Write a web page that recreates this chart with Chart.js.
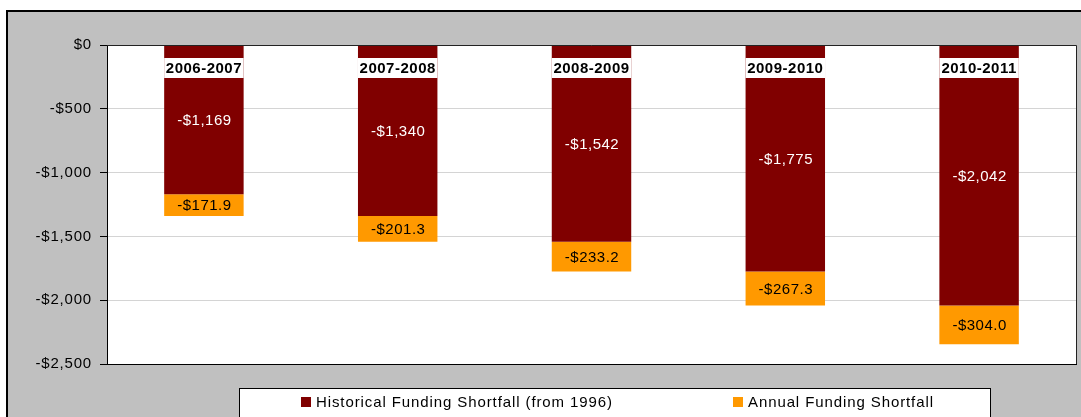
<!DOCTYPE html>
<html><head><meta charset="utf-8">
<script src="https://cdn.jsdelivr.net/npm/chart.js@4/dist/chart.umd.min.js"></script>
<style>html,body{margin:0;padding:0;background:#fff;overflow:hidden}#wrap{width:1081px;height:417px}</style>
</head><body><div id="wrap"><canvas id="c" width="1081" height="417"></canvas></div>
<script>
const categories = ['2006-2007', '2007-2008', '2008-2009', '2009-2010', '2010-2011'];
const historical = [-1169, -1340, -1542, -1775, -2042];
const annual = [-171.9, -201.3, -233.2, -267.3, -304.0];
const yTicks = [0, -500, -1000, -1500, -2000, -2500];
const seriesNames = ['Historical Funding Shortfall (from 1996)', 'Annual Funding Shortfall'];
const seriesColors = ['#800000', '#FF9900'];

const FONT = '"Liberation Sans", Arial, sans-serif';

function money(v) {
  const a = Math.abs(v).toLocaleString('en-US');
  return (v < 0 ? '-$' : '$') + a;
}

const framePlugin = {
  id: 'frame',
  beforeDraw(chart) {
    const ctx = chart.ctx, a = chart.chartArea;
    ctx.save();
    ctx.fillStyle = '#ffffff';
    ctx.fillRect(0, 0, chart.width, chart.height);
    ctx.fillStyle = '#C0C0C0';
    ctx.fillRect(7, 10, chart.width, chart.height);
    ctx.strokeStyle = '#000';
    ctx.lineWidth = 2;
    ctx.beginPath();
    ctx.moveTo(7, chart.height + 5); ctx.lineTo(7, 11); ctx.lineTo(chart.width + 5, 11);
    ctx.stroke();
    ctx.fillStyle = '#ffffff';
    ctx.fillRect(a.left, a.top, a.right - a.left, a.bottom - a.top);
    ctx.restore();
    ctx.letterSpacing = '0.8px';
  },
  afterDatasetsDraw(chart) {
    const ctx = chart.ctx, a = chart.chartArea;
    ctx.save();
    ctx.strokeStyle = '#222';
    ctx.lineWidth = 1;
    ctx.beginPath();
    ctx.moveTo(a.left, a.top + 0.5); ctx.lineTo(a.right + 0.5, a.top + 0.5); ctx.lineTo(a.right + 0.5, a.bottom);
    ctx.stroke();

    // value labels
    ctx.textAlign = 'center';
    ctx.textBaseline = 'middle';
    ctx.font = '15px ' + FONT;
    ctx.letterSpacing = '0.5px';
    chart.data.datasets.forEach((ds, di) => {
      const meta = chart.getDatasetMeta(di);
      meta.data.forEach((el, i) => {
        const v = ds.data[i];
        const txt = di === 0 ? money(v) : '-$' + Math.abs(v).toFixed(1);
        ctx.fillStyle = di === 0 ? '#ffffff' : '#000000';
        ctx.fillText(txt, el.x + 0.5, (el.y + el.base) / 2 + 1);
      });
    });

    // category labels (white boxes inside the top of each bar)
    const meta0 = chart.getDatasetMeta(0);
    ctx.font = 'bold 15px ' + FONT;
    ctx.letterSpacing = '0.5px';
    meta0.data.forEach((el, i) => {
      const w = el.width;
      ctx.fillStyle = '#ffffff';
      ctx.fillRect(el.x - w / 2, a.top + 13, w, 20);
      ctx.fillStyle = '#000000';
      ctx.fillText(chart.data.labels[i], el.x, a.top + 23.5);
    });
    ctx.restore();
  },
  afterDraw(chart) {
    const ctx = chart.ctx;
    ctx.save();
    // legend box
    ctx.fillStyle = '#ffffff';
    ctx.fillRect(240, 388, 750, 40);
    ctx.strokeStyle = '#000';
    ctx.lineWidth = 1;
    ctx.strokeRect(239.5, 388.5, 751, 40);
    const xs = [301, 733];
    ctx.font = '15px ' + FONT;
    ctx.letterSpacing = '0.9px';
    ctx.textAlign = 'left';
    ctx.textBaseline = 'middle';
    chart.data.datasets.forEach((ds, i) => {
      ctx.fillStyle = ds.backgroundColor;
      ctx.fillRect(xs[i], 397, 10, 10);
      ctx.fillStyle = '#000';
      ctx.fillText(ds.label, xs[i] + 15, 402.5);
    });
    ctx.restore();
    ctx.letterSpacing = '0px';
  }
};

new Chart(document.getElementById('c'), {
  type: 'bar',
  data: {
    labels: categories,
    datasets: [
      { label: seriesNames[0], data: historical, backgroundColor: seriesColors[0], borderWidth: 0 },
      { label: seriesNames[1], data: annual, backgroundColor: seriesColors[1], borderWidth: 0 }
    ]
  },
  options: {
    responsive: false,
    animation: false,
    devicePixelRatio: 1,
    layout: { padding: { top: 45, right: 5, bottom: 53, left: 0 } },
    plugins: { legend: { display: false }, tooltip: { enabled: false } },
    datasets: { bar: { barPercentage: 0.41, categoryPercentage: 1 } },
    scales: {
      x: {
        stacked: true,
        ticks: { display: false },
        grid: { display: false, drawTicks: false },
        border: { display: true, color: '#000', width: 1 },
        afterFit(s) { s.height = 0; }
      },
      y: {
        stacked: true,
        min: -2500,
        max: 0,
        afterBuildTicks(s) { s.ticks = yTicks.map(v => ({ value: v })); },
        ticks: {
          callback: v => money(v),
          color: '#000',
          font: { family: FONT, size: 15 },
          padding: 8
        },
        grid: { color: '#D4D4D4', tickColor: '#000', tickLength: 7, lineWidth: 1 },
        border: { display: true, color: '#000', width: 1 },
        afterFit(s) { s.width = 107; }
      }
    }
  },
  plugins: [framePlugin]
});
</script>
</body></html>
